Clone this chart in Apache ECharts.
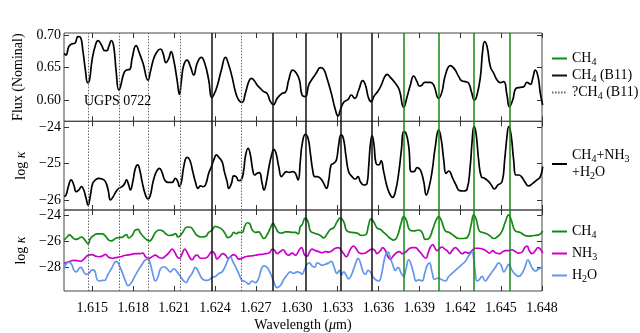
<!DOCTYPE html>
<html>
<head>
<meta charset="utf-8">
<script src="https://cdn.jsdelivr.net/npm/echarts@6/dist/echarts.min.js"></script>
<style>
html, body { margin: 0; padding: 0; background: #fff; }
#chart { width: 640px; height: 333px; }
</style>
</head>
<body>
<div id="chart"></div>
<script>
// [wavelength (um), value]
const fluxPoints = [
  [1.61293,0.6718],[1.61307,0.6692],[1.61327,0.6820],[1.61347,0.6862],[1.61371,0.6872],[1.61395,0.6974],[1.61413,0.6964],
  [1.61430,0.6769],[1.61449,0.6461],[1.61466,0.6266],[1.61479,0.6307],[1.61498,0.6615],[1.61523,0.6846],[1.61542,0.6913],
  [1.61567,0.6846],[1.61591,0.6759],[1.61608,0.6759],[1.61620,0.6820],[1.61640,0.6913],[1.61657,0.6820],[1.61674,0.6461],
  [1.61694,0.6154],[1.61706,0.6205],[1.61731,0.6410],[1.61750,0.6461],[1.61775,0.6472],[1.61792,0.6641],[1.61821,0.6836],
  [1.61846,0.6718],[1.61872,0.6564],[1.61909,0.6307],[1.61926,0.6436],[1.61951,0.6641],[1.61975,0.6744],[1.62000,0.6785],
  [1.62019,0.6718],[1.62041,0.6574],[1.62061,0.6641],[1.62078,0.6744],[1.62097,0.6615],[1.62122,0.6307],[1.62139,0.6087],
  [1.62154,0.6307],[1.62171,0.6538],[1.62195,0.6615],[1.62220,0.6513],[1.62244,0.6384],[1.62269,0.6564],[1.62300,0.6656],
  [1.62325,0.6564],[1.62354,0.6307],[1.62376,0.6035],[1.62391,0.6077],[1.62415,0.6205],[1.62447,0.6461],[1.62477,0.6656],
  [1.62501,0.6538],[1.62525,0.6359],[1.62550,0.6128],[1.62574,0.5999],[1.62599,0.5964],[1.62623,0.6102],[1.62648,0.6282],
  [1.62667,0.6333],[1.62689,0.6297],[1.62709,0.6231],[1.62733,0.6179],[1.62758,0.6128],[1.62782,0.6102],[1.62807,0.5974],
  [1.62829,0.5928],[1.62856,0.6025],[1.62892,0.6102],[1.62917,0.6118],[1.62941,0.6307],[1.62971,0.6461],[1.62995,0.6420],
  [1.63020,0.6307],[1.63039,0.6077],[1.63063,0.6051],[1.63088,0.6231],[1.63112,0.6318],[1.63142,0.6410],[1.63174,0.6497],
  [1.63198,0.6472],[1.63222,0.6333],[1.63254,0.6102],[1.63284,0.5846],[1.63303,0.5753],[1.63320,0.5846],[1.63345,0.5964],
  [1.63377,0.6010],[1.63401,0.6077],[1.63425,0.6025],[1.63455,0.6154],[1.63484,0.6297],[1.63504,0.6231],[1.63528,0.6025],
  [1.63548,0.5974],[1.63565,0.6051],[1.63597,0.6138],[1.63621,0.6231],[1.63646,0.6359],[1.63663,0.6395],[1.63687,0.6348],
  [1.63724,0.6256],[1.63753,0.6154],[1.63785,0.5887],[1.63810,0.6051],[1.63834,0.6231],[1.63858,0.6369],[1.63883,0.6282],
  [1.63900,0.6215],[1.63920,0.6231],[1.63939,0.6272],[1.63981,0.6272],[1.64005,0.6231],[1.64042,0.6025],[1.64066,0.6128],
  [1.64091,0.6384],[1.64128,0.6528],[1.64159,0.6472],[1.64189,0.6359],[1.64213,0.6292],[1.64238,0.6282],[1.64262,0.6256],
  [1.64282,0.6128],[1.64304,0.5999],[1.64323,0.6077],[1.64348,0.6359],[1.64365,0.6769],[1.64379,0.6897],[1.64397,0.6820],
  [1.64421,0.6513],[1.64446,0.6410],[1.64470,0.6307],[1.64494,0.6266],[1.64519,0.6282],[1.64543,0.6077],[1.64560,0.5897],
  [1.64585,0.5999],[1.64609,0.6179],[1.64641,0.6194],[1.64666,0.6205],[1.64690,0.6272],[1.64715,0.6241],[1.64732,0.6333],
  [1.64751,0.6461],[1.64771,0.6359],[1.64788,0.6102],[1.64805,0.5923]
];

const kappaPoints = [
  [1.61293,-25.908],[1.61307,-25.862],[1.61327,-25.587],[1.61344,-25.449],[1.61364,-25.587],[1.61381,-25.770],[1.61400,-25.725],
  [1.61420,-25.633],[1.61437,-25.725],[1.61454,-25.954],[1.61469,-26.137],[1.61486,-25.862],[1.61503,-25.541],[1.61523,-25.449],
  [1.61547,-25.403],[1.61572,-25.422],[1.61596,-25.495],[1.61616,-25.725],[1.61633,-26.000],[1.61650,-25.926],[1.61669,-25.798],
  [1.61694,-25.679],[1.61718,-25.633],[1.61738,-25.541],[1.61750,-25.449],[1.61767,-25.587],[1.61779,-25.725],[1.61797,-25.495],
  [1.61816,-25.128],[1.61833,-25.036],[1.61848,-25.174],[1.61865,-25.495],[1.61890,-25.862],[1.61909,-25.972],[1.61926,-25.862],
  [1.61946,-25.495],[1.61970,-25.220],[1.61992,-25.128],[1.62012,-25.247],[1.62031,-25.449],[1.62056,-25.514],[1.62085,-25.514],
  [1.62110,-25.403],[1.62127,-25.495],[1.62139,-25.633],[1.62154,-25.495],[1.62171,-25.082],[1.62195,-24.825],[1.62215,-24.899],
  [1.62237,-25.220],[1.62256,-25.495],[1.62276,-25.679],[1.62293,-25.614],[1.62310,-25.633],[1.62330,-25.587],[1.62354,-25.266],
  [1.62374,-25.082],[1.62391,-24.899],[1.62411,-24.761],[1.62428,-24.825],[1.62452,-24.945],[1.62469,-25.220],[1.62489,-25.495],
  [1.62501,-25.679],[1.62521,-25.541],[1.62538,-25.339],[1.62555,-25.358],[1.62574,-25.468],[1.62592,-25.449],[1.62611,-25.174],
  [1.62623,-24.807],[1.62643,-24.578],[1.62660,-24.761],[1.62677,-25.174],[1.62692,-25.312],[1.62709,-25.266],[1.62726,-25.247],
  [1.62746,-25.541],[1.62760,-25.725],[1.62775,-25.541],[1.62799,-25.036],[1.62819,-24.715],[1.62831,-24.605],[1.62848,-24.715],
  [1.62868,-25.082],[1.62888,-25.358],[1.62905,-25.284],[1.62922,-25.220],[1.62946,-25.238],[1.62971,-25.220],[1.62990,-25.266],
  [1.63010,-25.449],[1.63027,-24.899],[1.63039,-24.486],[1.63063,-24.192],[1.63083,-24.303],[1.63100,-24.715],[1.63117,-25.174],
  [1.63132,-25.358],[1.63149,-25.358],[1.63174,-25.403],[1.63198,-25.541],[1.63218,-25.679],[1.63235,-25.449],[1.63252,-25.036],
  [1.63271,-24.991],[1.63291,-24.899],[1.63308,-24.486],[1.63325,-24.211],[1.63342,-24.303],[1.63362,-24.807],[1.63381,-25.220],
  [1.63406,-25.358],[1.63430,-25.422],[1.63450,-25.358],[1.63467,-25.495],[1.63492,-25.587],[1.63516,-25.541],[1.63528,-25.082],
  [1.63540,-24.486],[1.63553,-24.229],[1.63567,-24.486],[1.63582,-24.991],[1.63602,-25.036],[1.63619,-24.926],[1.63638,-25.220],
  [1.63663,-25.633],[1.63687,-25.862],[1.63704,-25.926],[1.63724,-25.770],[1.63748,-25.266],[1.63768,-24.624],[1.63785,-24.119],
  [1.63802,-24.165],[1.63822,-24.532],[1.63841,-25.220],[1.63861,-25.220],[1.63883,-25.110],[1.63907,-25.174],[1.63932,-25.495],
  [1.63951,-25.862],[1.63969,-25.679],[1.63993,-25.220],[1.64017,-24.532],[1.64042,-24.073],[1.64061,-24.348],[1.64079,-24.899],
  [1.64096,-25.266],[1.64115,-25.202],[1.64145,-25.403],[1.64169,-25.587],[1.64194,-25.743],[1.64225,-25.752],[1.64250,-25.706],
  [1.64274,-25.036],[1.64286,-24.440],[1.64301,-23.981],[1.64316,-24.165],[1.64335,-24.899],[1.64355,-25.358],[1.64379,-25.403],
  [1.64409,-25.495],[1.64428,-25.587],[1.64450,-25.697],[1.64477,-25.587],[1.64507,-25.495],[1.64526,-24.899],[1.64543,-24.257],
  [1.64556,-23.981],[1.64573,-24.211],[1.64592,-24.899],[1.64609,-25.312],[1.64629,-25.312],[1.64649,-25.358],[1.64673,-25.495],
  [1.64702,-25.614],[1.64732,-25.541],[1.64763,-25.449],[1.64788,-25.358],[1.64805,-25.082]
];

const ch4Points = [
  [1.61293,-25.906],[1.61315,-25.670],[1.61332,-25.506],[1.61351,-25.670],[1.61376,-25.859],[1.61400,-25.788],[1.61420,-25.670],
  [1.61437,-25.788],[1.61454,-26.023],[1.61469,-26.212],[1.61486,-25.788],[1.61510,-25.553],[1.61535,-25.435],[1.61572,-25.435],
  [1.61596,-25.600],[1.61620,-25.906],[1.61640,-25.976],[1.61669,-25.788],[1.61694,-25.717],[1.61718,-25.694],[1.61738,-25.553],
  [1.61750,-25.482],[1.61767,-25.741],[1.61792,-25.553],[1.61816,-25.129],[1.61836,-25.082],[1.61853,-25.364],[1.61877,-25.670],
  [1.61902,-25.906],[1.61919,-25.976],[1.61938,-25.788],[1.61963,-25.317],[1.61992,-25.129],[1.62017,-25.200],[1.62041,-25.435],
  [1.62066,-25.553],[1.62090,-25.506],[1.62110,-25.412],[1.62129,-25.670],[1.62146,-25.553],[1.62163,-25.317],[1.62195,-24.894],
  [1.62220,-24.917],[1.62244,-25.200],[1.62269,-25.553],[1.62300,-25.670],[1.62330,-25.623],[1.62354,-25.317],[1.62379,-25.129],
  [1.62403,-24.847],[1.62423,-24.917],[1.62447,-25.035],[1.62472,-25.364],[1.62496,-25.717],[1.62518,-25.600],[1.62538,-25.317],
  [1.62555,-25.412],[1.62574,-25.317],[1.62599,-25.317],[1.62618,-24.847],[1.62636,-24.564],[1.62653,-24.612],[1.62672,-25.082],
  [1.62697,-25.317],[1.62721,-25.270],[1.62741,-25.553],[1.62760,-25.788],[1.62782,-25.506],[1.62807,-24.964],[1.62826,-24.612],
  [1.62843,-24.894],[1.62868,-25.317],[1.62892,-25.364],[1.62917,-25.270],[1.62941,-25.270],[1.62966,-25.317],[1.62990,-25.317],
  [1.63010,-25.435],[1.63027,-24.847],[1.63039,-24.729],[1.63063,-24.212],[1.63083,-24.494],[1.63100,-25.200],[1.63125,-25.364],
  [1.63149,-25.435],[1.63174,-25.553],[1.63198,-25.741],[1.63222,-25.435],[1.63247,-25.082],[1.63271,-24.964],[1.63296,-24.494],
  [1.63320,-24.188],[1.63345,-24.494],[1.63369,-25.200],[1.63406,-25.317],[1.63443,-25.364],[1.63474,-25.553],[1.63504,-25.506],
  [1.63528,-24.729],[1.63545,-24.259],[1.63565,-24.494],[1.63589,-24.964],[1.63614,-25.082],[1.63638,-25.317],[1.63663,-25.553],
  [1.63687,-25.788],[1.63712,-25.906],[1.63736,-25.670],[1.63766,-24.612],[1.63785,-24.094],[1.63805,-24.376],[1.63827,-25.082],
  [1.63858,-25.200],[1.63895,-25.129],[1.63920,-25.317],[1.63944,-25.859],[1.63969,-25.788],[1.63998,-25.082],[1.64022,-24.376],
  [1.64042,-24.094],[1.64061,-24.376],[1.64091,-25.200],[1.64120,-25.317],[1.64152,-25.553],[1.64189,-25.788],[1.64225,-25.788],
  [1.64255,-25.670],[1.64282,-24.612],[1.64299,-23.953],[1.64316,-24.259],[1.64340,-25.200],[1.64365,-25.317],[1.64397,-25.435],
  [1.64421,-25.600],[1.64446,-25.788],[1.64470,-25.670],[1.64502,-25.317],[1.64531,-24.494],[1.64556,-23.953],[1.64575,-24.376],
  [1.64604,-25.200],[1.64641,-25.317],[1.64666,-25.506],[1.64702,-25.600],[1.64739,-25.553],[1.64776,-25.506],[1.64805,-25.200]
];

const nh3Points = [
  [1.61293,-27.718],[1.61315,-27.623],[1.61339,-27.553],[1.61364,-27.482],[1.61388,-27.506],[1.61413,-27.553],[1.61437,-27.388],
  [1.61469,-27.082],[1.61498,-27.035],[1.61523,-27.153],[1.61547,-27.200],[1.61572,-27.153],[1.61596,-27.012],[1.61620,-27.247],
  [1.61645,-27.317],[1.61669,-27.270],[1.61706,-27.200],[1.61743,-27.082],[1.61779,-27.035],[1.61816,-26.965],[1.61853,-26.965],
  [1.61870,-26.917],[1.61890,-27.200],[1.61916,-27.317],[1.61938,-27.200],[1.61963,-27.082],[1.61987,-27.247],[1.62012,-27.317],
  [1.62036,-27.153],[1.62066,-26.847],[1.62085,-26.612],[1.62105,-26.847],[1.62122,-27.200],[1.62139,-27.317],[1.62159,-26.965],
  [1.62178,-26.612],[1.62195,-26.847],[1.62212,-27.200],[1.62232,-27.435],[1.62252,-27.153],[1.62269,-27.082],[1.62293,-27.317],
  [1.62318,-27.317],[1.62342,-27.247],[1.62362,-26.965],[1.62379,-26.800],[1.62398,-26.965],[1.62415,-27.388],[1.62433,-27.200],
  [1.62457,-26.965],[1.62477,-27.082],[1.62496,-27.317],[1.62513,-27.200],[1.62538,-27.035],[1.62555,-27.153],[1.62574,-27.388],
  [1.62599,-27.317],[1.62623,-27.200],[1.62648,-27.153],[1.62672,-27.129],[1.62697,-27.082],[1.62721,-27.035],[1.62746,-27.012],
  [1.62770,-26.965],[1.62795,-26.917],[1.62824,-26.612],[1.62839,-26.729],[1.62856,-26.965],[1.62880,-26.800],[1.62900,-26.659],
  [1.62922,-26.965],[1.62941,-27.082],[1.62966,-26.917],[1.62990,-27.082],[1.63015,-26.729],[1.63034,-26.494],[1.63059,-27.082],
  [1.63076,-27.153],[1.63093,-26.847],[1.63112,-26.612],[1.63137,-26.729],[1.63161,-26.800],[1.63186,-26.894],[1.63210,-26.800],
  [1.63235,-26.847],[1.63259,-26.729],[1.63284,-26.541],[1.63308,-26.494],[1.63328,-26.729],[1.63345,-26.965],[1.63364,-27.200],
  [1.63381,-26.917],[1.63401,-26.494],[1.63418,-26.376],[1.63438,-26.612],[1.63460,-26.917],[1.63479,-26.965],[1.63504,-26.917],
  [1.63528,-26.729],[1.63553,-26.612],[1.63572,-26.682],[1.63589,-26.965],[1.63614,-26.729],[1.63631,-26.494],[1.63651,-26.729],
  [1.63670,-27.200],[1.63687,-27.388],[1.63704,-27.200],[1.63729,-26.917],[1.63753,-26.800],[1.63773,-26.965],[1.63797,-26.847],
  [1.63822,-26.612],[1.63846,-26.494],[1.63871,-26.494],[1.63895,-26.729],[1.63915,-26.965],[1.63932,-27.200],[1.63949,-27.317],
  [1.63964,-26.917],[1.63981,-26.447],[1.63998,-26.259],[1.64013,-26.494],[1.64030,-26.729],[1.64049,-26.541],[1.64066,-26.447],
  [1.64086,-26.612],[1.64103,-26.729],[1.64123,-26.965],[1.64140,-26.729],[1.64164,-26.494],[1.64189,-26.729],[1.64213,-26.965],
  [1.64238,-26.847],[1.64262,-26.917],[1.64286,-26.729],[1.64311,-26.541],[1.64335,-26.541],[1.64365,-26.612],[1.64389,-26.729],
  [1.64414,-26.917],[1.64438,-26.729],[1.64463,-26.917],[1.64487,-26.965],[1.64507,-26.847],[1.64531,-26.729],[1.64556,-26.729],
  [1.64580,-26.659],[1.64604,-26.800],[1.64629,-26.917],[1.64653,-26.847],[1.64673,-26.494],[1.64690,-26.376],[1.64707,-26.729],
  [1.64727,-26.965],[1.64751,-26.729],[1.64771,-26.494],[1.64788,-26.612],[1.64805,-26.917]
];

const h2oPoints = [
  [1.61293,-28.141],[1.61307,-27.788],[1.61327,-27.623],[1.61347,-27.788],[1.61366,-28.259],[1.61383,-28.377],[1.61400,-28.141],
  [1.61417,-28.023],[1.61432,-28.259],[1.61454,-28.565],[1.61474,-28.494],[1.61498,-28.212],[1.61515,-28.259],[1.61535,-28.965],
  [1.61552,-29.082],[1.61572,-29.035],[1.61591,-29.035],[1.61608,-28.729],[1.61625,-28.377],[1.61645,-28.023],[1.61665,-27.623],
  [1.61677,-27.553],[1.61694,-27.788],[1.61718,-28.377],[1.61743,-29.082],[1.61762,-29.435],[1.61787,-29.200],[1.61811,-28.729],
  [1.61836,-28.259],[1.61865,-27.788],[1.61890,-27.435],[1.61909,-27.388],[1.61926,-27.788],[1.61943,-28.494],[1.61963,-29.082],
  [1.61982,-28.729],[1.62000,-28.141],[1.62024,-27.976],[1.62049,-28.141],[1.62073,-28.377],[1.62097,-28.141],[1.62122,-28.377],
  [1.62146,-28.729],[1.62171,-29.082],[1.62188,-29.200],[1.62208,-28.847],[1.62232,-28.494],[1.62256,-28.023],[1.62281,-28.423],
  [1.62305,-28.894],[1.62335,-29.035],[1.62359,-28.965],[1.62379,-28.800],[1.62403,-28.729],[1.62428,-28.494],[1.62452,-28.377],
  [1.62477,-27.906],[1.62496,-27.435],[1.62513,-27.200],[1.62530,-27.553],[1.62550,-27.953],[1.62574,-28.494],[1.62599,-29.035],
  [1.62623,-29.129],[1.62648,-29.318],[1.62672,-29.082],[1.62697,-29.200],[1.62721,-28.847],[1.62741,-28.141],[1.62758,-27.906],
  [1.62782,-28.023],[1.62807,-28.494],[1.62831,-29.129],[1.62856,-29.600],[1.62880,-29.435],[1.62905,-28.965],[1.62929,-28.612],
  [1.62954,-28.377],[1.62978,-28.494],[1.63002,-28.377],[1.63027,-28.447],[1.63039,-28.565],[1.63059,-28.141],[1.63076,-27.788],
  [1.63093,-27.670],[1.63112,-27.906],[1.63132,-28.023],[1.63149,-27.670],[1.63166,-27.741],[1.63186,-27.859],[1.63210,-27.788],
  [1.63235,-27.670],[1.63254,-27.553],[1.63271,-27.906],[1.63296,-28.494],[1.63313,-28.259],[1.63328,-28.612],[1.63345,-28.377],
  [1.63362,-28.612],[1.63381,-28.917],[1.63401,-28.612],[1.63418,-28.141],[1.63438,-27.553],[1.63450,-27.317],[1.63467,-27.670],
  [1.63487,-28.377],[1.63504,-28.565],[1.63523,-28.259],[1.63540,-28.377],[1.63558,-28.729],[1.63577,-28.965],[1.63602,-29.082],
  [1.63621,-28.612],[1.63638,-27.670],[1.63655,-26.965],[1.63670,-26.847],[1.63687,-27.317],[1.63704,-27.788],[1.63724,-28.259],
  [1.63743,-28.023],[1.63768,-28.494],[1.63785,-28.729],[1.63802,-28.141],[1.63822,-27.435],[1.63839,-27.788],[1.63858,-28.494],
  [1.63876,-29.082],[1.63895,-28.988],[1.63920,-29.082],[1.63939,-28.494],[1.63956,-27.906],[1.63973,-27.670],[1.63993,-28.377],
  [1.64013,-28.965],[1.64037,-28.847],[1.64061,-28.965],[1.64091,-29.082],[1.64115,-28.729],[1.64140,-28.494],[1.64164,-28.259],
  [1.64189,-28.023],[1.64213,-27.788],[1.64238,-27.553],[1.64257,-27.200],[1.64274,-26.965],[1.64286,-26.847],[1.64299,-27.317],
  [1.64311,-28.494],[1.64323,-29.082],[1.64340,-28.965],[1.64360,-28.729],[1.64384,-29.082],[1.64409,-28.729],[1.64433,-28.377],
  [1.64458,-28.023],[1.64482,-27.670],[1.64502,-27.906],[1.64519,-28.377],[1.64536,-28.141],[1.64556,-27.788],[1.64580,-28.259],
  [1.64604,-28.565],[1.64629,-28.729],[1.64653,-28.494],[1.64678,-27.906],[1.64697,-27.435],[1.64715,-27.788],[1.64732,-28.141],
  [1.64751,-28.306],[1.64776,-28.141],[1.64805,-28.023]
];

// line positions (um)
const ch4Lines = [1.63785, 1.64042, 1.64301, 1.64560];
const b11Lines = [1.62378, 1.62827, 1.63068, 1.63324, 1.63549];
const b11QueryLines = [1.61468, 1.61695, 1.61908, 1.62145, 1.62594];

const xTickLabels = ['1.615', '1.618', '1.621', '1.624', '1.627', '1.630', '1.633', '1.636', '1.639', '1.642', '1.645', '1.648'];
const fluxTickLabels = ['0.60', '0.65', '0.70'];
const kappaTickLabels = ['-26', '-25', '-24'];
const molTickLabels = ['-28', '-26', '-24'];

const FONT = 'Liberation Serif';
const GREEN = '#138a13';
const xMin = 1.61292, xMax = 1.648;
const yRanges = [[0.5672, 0.7031], [-26.275, -23.835], [-29.856, -23.577]];
const yTickSets = [fluxTickLabels, kappaTickLabels, molTickLabels];
const xTickVals = xTickLabels.map(Number);

const chart = echarts.init(document.getElementById('chart'));

const grids = [
  { left: 64, top: 33, width: 478, height: 88.3 },
  { left: 64, top: 121.3, width: 478, height: 88.7 },
  { left: 64, top: 210, width: 478, height: 89 }
].map(g => Object.assign(g, { show: true, borderColor: '#444', borderWidth: 1, backgroundColor: 'transparent' }));

const tickStyle = { inside: true, length: 5, lineStyle: { color: '#333', width: 1 } };

const xAxes = [];
const yAxes = [];
for (let i = 0; i < 3; i++) {
  ['bottom', 'top'].forEach(pos => {
    const labelled = i === 2 && pos === 'bottom';
    xAxes.push({
      type: 'value', gridIndex: i, position: pos, min: xMin, max: xMax,
      axisLine: { show: false }, splitLine: { show: false },
      axisTick: Object.assign({ customValues: xTickVals }, tickStyle),
      axisLabel: {
        show: labelled, customValues: xTickVals, margin: 10,
        fontFamily: FONT, fontSize: 14, color: '#000',
        formatter: v => xTickLabels[xTickVals.indexOf(v)] || ''
      },
      name: labelled ? 'Wavelength ({i|μ}m)' : '',
      nameLocation: 'middle', nameGap: 27,
      nameTextStyle: { fontFamily: FONT, fontSize: 14, color: '#000', rich: { i: { fontFamily: FONT, fontSize: 14, fontStyle: 'italic' } } }
    });
  });
  const labels = yTickSets[i];
  const vals = labels.map(Number);
  ['left', 'right'].forEach(pos => {
    yAxes.push({
      type: 'value', gridIndex: i, position: pos, min: yRanges[i][0], max: yRanges[i][1],
      axisLine: { show: false }, splitLine: { show: false },
      axisTick: Object.assign({ customValues: vals }, tickStyle),
      axisLabel: {
        show: pos === 'left', customValues: vals, margin: 3,
        fontFamily: FONT, fontSize: 14, color: '#000',
        formatter: v => (labels[vals.indexOf(v)] || '').replace('-', '\u2212')
      },
      name: pos === 'left' ? (i === 0 ? 'Flux (Nominal)' : 'log {i|κ}') : '',
      nameLocation: 'middle', nameGap: i === 0 ? 30 : 36,
      nameTextStyle: { fontFamily: FONT, fontSize: 14, color: '#000', rich: { i: { fontFamily: FONT, fontSize: 14, fontStyle: 'italic' } } }
    });
  });
}

const lineKinds = [
  { name: 'CH4', values: ch4Lines, style: { color: GREEN, width: 1.5, type: 'solid' } },
  { name: 'CH4 (B11)', values: b11Lines, style: { color: '#111', width: 1.5, type: 'solid' } },
  { name: '?CH4 (B11)', values: b11QueryLines, style: { color: '#666', width: 1, type: [1.5, 1.5] } }
];

// vertical reference lines for one panel, hung on that panel's first curve
const panelLines = () => ({
  silent: true, symbol: 'none', precision: 5, label: { show: false }, emphasis: { disabled: true },
  data: lineKinds.flatMap(k => k.values.map(v => ({ xAxis: v, lineStyle: k.style })))
});

const spectrum = (name, data, gi, color, withLines) => ({
  name, type: 'line', data, xAxisIndex: gi * 2, yAxisIndex: gi * 2,
  symbol: 'none', smooth: 0.5, z: 3,
  lineStyle: { color, width: 1.7 }, itemStyle: { color },
  markLine: withLines ? panelLines() : undefined
});

const series = [
  spectrum('UGPS 0722', fluxPoints, 0, '#000', true),
  spectrum('CH4+NH3+H2O', kappaPoints, 1, '#000', true),
  spectrum('CH4', ch4Points, 2, GREEN, true),
  spectrum('NH3', nh3Points, 2, '#cc00cc', false),
  spectrum('H2O', h2oPoints, 2, '#6495ed', false)
];
// legend-only entries for the line markers
lineKinds.slice(1).forEach(k => {
  series.push({
    name: k.name, type: 'line', data: [], xAxisIndex: 0, yAxisIndex: 0,
    symbol: 'none', lineStyle: k.style, itemStyle: { color: k.style.color }
  });
});

const sub = name => name === 'CH4+NH3+H2O'
  ? 'CH{s|4}+NH{s|3}\n+H{s|2}O'
  : name.replace(/H(\d)/g, 'H{s|$1}');

const legendBase = {
  orient: 'vertical', left: 546, itemWidth: 15, itemHeight: 12,
  selectedMode: false, formatter: sub,
  itemStyle: { color: 'rgba(0,0,0,0)', borderWidth: 0, opacity: 0 },
  textStyle: {
    fontFamily: FONT, fontSize: 14, color: '#000', lineHeight: 17,
    rich: { s: { fontFamily: FONT, fontSize: 10, lineHeight: 10, padding: [7, 0, 0, 0] } }
  }
};

chart.setOption({
  animation: false,
  title: { text: 'UGPS 0722', left: 79, top: 89, textStyle: { fontFamily: FONT, fontSize: 14, fontWeight: 'normal', color: '#000' } },
  grid: grids,
  xAxis: xAxes,
  yAxis: yAxes,
  legend: [
    Object.assign({}, legendBase, { top: 45, itemGap: 0, data: ['CH4', 'CH4 (B11)', '?CH4 (B11)'] }),
    Object.assign({}, legendBase, { top: 142, data: ['CH4+NH3+H2O'] }),
    Object.assign({}, legendBase, { top: 218, itemGap: 5, data: ['CH4', 'NH3', 'H2O'] })
  ],
  series
});
</script>
</body>
</html>
